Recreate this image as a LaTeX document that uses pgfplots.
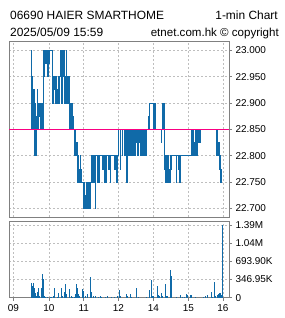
\documentclass[border=0pt]{standalone}
\usepackage{pgfplots}
\pgfplotsset{compat=1.18}
\usepackage{fontspec}
\setmainfont{Liberation Sans}
\definecolor{pblue}{RGB}{16,106,168}
\definecolor{pmag}{RGB}{250,0,130}
\definecolor{framec}{RGB}{128,128,128}
\definecolor{gridc}{RGB}{190,190,190}
\pgfplotsset{
  common/.style={
    scale only axis, width=220bp,
    xmin=9, xmax=229,
    xtick={13.3,49,83.7,118.3,153.3,188.5,223},
    axis line style={framec, line width=1bp},
    grid=major,
    major grid style={gridc, dash pattern=on 2bp off 2bp, line width=0.8bp},
    ytick pos=right, yticklabel pos=right,
    tick align=outside, major tick length=3bp,
    tick style={framec, line width=0.8bp},
    ticklabel style={font=\fontsize{10}{12}\selectfont},
    clip=true,
  }
}
\begin{document}
\begin{tikzpicture}
\useasboundingbox (0,0) rectangle (285bp,-318bp);
\node[anchor=base west, inner sep=0, font=\fontsize{12}{14}\selectfont] at (10bp,-19.3bp) {06690 HAIER SMARTHOME};
\node[anchor=base east, inner sep=0, font=\fontsize{12}{14}\selectfont] at (278bp,-19.3bp) {1-min Chart};
\node[anchor=base west, inner sep=0, font=\fontsize{12}{14}\selectfont] at (10bp,-36bp) {2025/05/09 15:59};
\node[anchor=base east, inner sep=0, font=\fontsize{11.6}{14}\selectfont] at (279bp,-36bp) {etnet.com.hk © copyright};

\begin{axis}[common, at={(9bp,-41bp)}, anchor=north west, height=176bp,
  ymin=22.684, ymax=23.0176,
  ytick={22.7,22.75,22.8,22.85,22.9,22.95,23.0},
  yticklabels={22.700,22.750,22.800,22.850,22.900,22.950,23.000},
  xticklabels={}, xtick style={draw=none}]
\addplot[pblue, line width=0.75bp, const plot] table {
x y
31.0 22.85
31.4 23.00
31.8 22.95
32.1 22.90
32.4 22.95
32.7 22.85
33.3 22.925
33.9 22.875
34.3 22.925
34.8 22.80
35.2 22.90
35.6 22.80
36.0 22.875
36.5 22.85
37.0 22.925
37.5 22.85
37.9 22.90
38.3 22.875
38.7 22.90
39.1 22.875
39.5 22.90
39.9 22.85
40.4 22.90
40.8 22.875
41.2 22.90
41.6 22.85
42.1 22.90
42.6 22.85
43.4 23.00
43.9 22.95
44.3 23.00
45.7 22.975
46.2 23.00
47.4 22.95
48.0 23.00
48.7 22.975
49.0 23.00
52.0 22.975
52.6 22.90
53.0 22.95
54.0 22.925
54.5 22.95
55.0 22.90
55.8 22.95
56.7 22.90
57.2 22.925
58.0 22.90
58.5 22.95
59.3 22.90
59.8 22.95
60.5 23.00
61.0 22.95
61.5 22.90
62.0 23.00
63.0 22.95
63.5 23.00
64.5 22.90
64.9 22.95
65.3 22.90
65.7 22.95
66.1 23.00
66.5 22.90
66.9 22.95
67.3 22.90
67.7 22.95
68.1 22.90
68.5 22.95
68.9 22.90
69.3 22.85
69.7 22.90
70.3 22.85
70.8 22.90
71.3 22.85
71.8 22.90
72.3 22.85
72.8 22.875
73.4 22.85
74.2 22.80
74.8 22.85
75.8 22.80
76.4 22.825
77.0 22.80
77.6 22.75
78.0 22.80
78.4 22.75
78.8 22.775
79.2 22.75
79.6 22.775
80.0 22.75
80.4 22.80
80.8 22.75
81.2 22.775
81.7 22.75
83.3 22.70
83.7 22.75
84.1 22.70
84.5 22.725
84.9 22.70
85.3 22.725
85.7 22.70
86.1 22.75
86.7 22.70
87.6 22.75
88.3 22.70
89.0 22.75
89.7 22.70
90.3 22.75
91.0 22.775
91.4 22.75
91.8 22.80
92.2 22.75
92.6 22.775
93.0 22.75
93.4 22.775
93.8 22.80
94.2 22.75
94.6 22.775
95.0 22.75
95.3 22.70
95.8 22.80
97.7 22.75
98.0 22.80
99.3 22.75
99.7 22.80
102.7 22.775
103.1 22.80
103.5 22.775
103.9 22.75
104.3 22.80
105.7 22.75
106.0 22.80
108.0 22.775
108.4 22.80
108.8 22.775
109.2 22.80
109.6 22.775
110.0 22.75
110.4 22.775
110.8 22.80
114.0 22.775
114.4 22.80
114.8 22.775
115.2 22.80
115.6 22.775
116.0 22.80
116.4 22.775
116.8 22.75
117.2 22.80
118.0 22.85
120.3 22.775
120.7 22.85
122.3 22.80
122.7 22.85
124.7 22.80
125.1 22.85
126.7 22.75
127.3 22.85
128.7 22.80
129.1 22.85
130.0 22.80
130.4 22.85
130.8 22.825
131.2 22.85
131.6 22.80
132.0 22.85
132.4 22.825
132.8 22.85
133.2 22.80
133.6 22.85
134.0 22.825
134.4 22.85
134.8 22.80
135.3 22.85
135.8 22.825
136.3 22.85
136.8 22.825
137.3 22.85
137.8 22.80
138.3 22.85
138.8 22.825
139.3 22.85
140.0 22.80
140.5 22.85
140.9 22.80
141.3 22.85
141.7 22.80
142.1 22.85
142.5 22.80
142.9 22.825
143.3 22.85
143.7 22.80
144.1 22.85
144.5 22.80
144.9 22.85
145.3 22.80
145.7 22.85
146.1 22.80
146.6 22.85
148.0 22.875
148.6 22.85
149.3 22.90
153.0 22.85
153.4 22.90
153.8 22.85
154.2 22.90
154.6 22.85
155.0 22.90
155.3 22.875
155.7 22.85
161.0 22.825
161.5 22.85
162.0 22.90
162.4 22.85
162.8 22.90
163.2 22.85
163.6 22.90
164.0 22.775
164.5 22.80
165.3 22.75
165.7 22.80
166.5 22.75
167.0 22.80
167.5 22.75
168.0 22.80
168.7 22.75
169.2 22.775
169.7 22.75
170.2 22.80
170.7 22.775
171.2 22.80
176.0 22.75
176.4 22.80
178.7 22.775
179.0 22.75
179.4 22.80
180.0 22.75
180.5 22.80
191.7 22.85
192.1 22.80
192.5 22.825
193.3 22.85
193.7 22.80
194.1 22.825
194.5 22.80
194.9 22.85
195.3 22.80
195.7 22.825
196.1 22.85
196.5 22.80
197.3 22.85
197.7 22.825
198.1 22.85
198.5 22.825
198.9 22.85
199.5 22.825
200.0 22.85
216.7 22.80
217.1 22.85
217.5 22.80
217.9 22.825
218.3 22.80
218.7 22.825
219.3 22.775
219.7 22.80
220.2 22.75
220.6 22.775
221.0 22.75
221.6 22.75
};
\addplot[pmag, line width=1bp] coordinates {(9,22.85) (229,22.85)};
\end{axis}

\begin{axis}[common, at={(9bp,-221bp)}, anchor=north west, height=76.7bp,
  ymin=0, ymax=1464160, scaled y ticks=false,
  ytick={0,346950,693900,1040850,1387800},
  yticklabels={0,346.95K,693.90K,1.04M,1.39M},
  xtick pos=bottom,
  xticklabels={09,10,11,12,14,15,16}]
\addplot[pblue, ycomb, line width=1bp] table {
x y
31.0 286000
32.0 223000
33.0 286000
34.0 191000
35.0 95000
36.0 25000
37.0 115000
38.0 178000
39.0 38000
41.0 178000
42.0 458000
43.0 350000
44.0 32000
45.0 15000
47.5 15000
50.0 15000
51.0 15000
53.3 25000
54.3 191000
57.7 15000
58.3 95000
61.0 191000
62.7 25000
64.0 115000
65.0 267000
66.0 64000
69.0 159000
71.0 25000
72.3 15000
74.0 15000
75.0 76000
76.0 267000
77.0 191000
78.3 76000
79.3 25000
82.7 159000
83.7 127000
85.0 38000
87.0 64000
90.0 401000
91.7 115000
93.3 38000
95.7 25000
98.3 15000
100.0 25000
101.7 15000
105.0 15000
107.7 25000
111.0 15000
114.0 15000
117.3 25000
119.0 140000
120.0 25000
126.0 76000
127.3 38000
130.0 76000
131.0 15000
136.3 191000
138.3 15000
146.7 20000
149.3 153000
151.0 331000
152.0 25000
153.0 25000
157.0 229000
158.3 51000
159.3 38000
161.0 89000
162.7 25000
165.0 267000
166.0 25000
167.7 25000
170.0 522000
171.3 407000
176.7 15000
180.3 51000
182.7 20000
184.3 15000
186.7 76000
187.7 51000
190.0 51000
191.3 51000
195.0 20000
203.3 15000
205.7 25000
207.0 51000
211.0 115000
212.3 20000
214.0 305000
215.7 25000
217.0 45000
218.3 64000
219.3 89000
220.3 89000
221.3 51000
222.3 1388000
};
\end{axis}
\end{tikzpicture}
\end{document}
